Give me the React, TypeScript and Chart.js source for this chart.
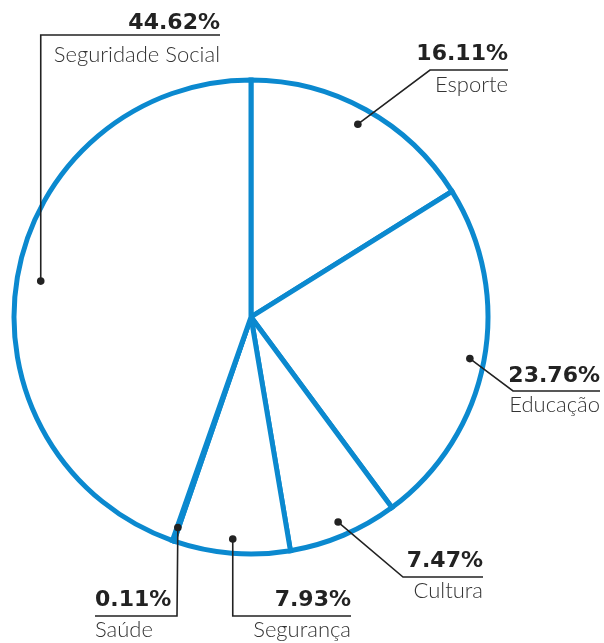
import React, { useEffect, useRef } from "react";
import { Chart, registerables } from "chart.js";

Chart.register(...registerables);

const categories = ["Esporte", "Educação", "Cultura", "Segurança", "Saúde", "Seguridade Social"];
const values = [16.11, 23.76, 7.47, 7.93, 0.11, 44.62];
const valueLabels = ["16.11%", "23.76%", "7.47%", "7.93%", "0.11%", "44.62%"];

// label placement, offsets from the pie centre (px)
const elbowX: (number | null)[] = [179, 262, 152, null, -74, null];
const elbowY = [-247, 74, 260, 299, 299, -282];
const lineEndX = [257, 349, 232, 100, -156, -31];
const pctGap = [10, 9, 10, 10, 10, 6];
const nameGap = [22, 21, 21, 21, 21, 27];
const dotRatio = [0.93, 0.94, 0.94, 0.94, 0.94, 0.9];

const BLUE = "#0b89cf";
const INK = "#222222";

const labelPlugin = {
  id: "pieLabels",
  afterDraw(chart: any) {
    const ctx = chart.ctx;
    const meta = chart.getDatasetMeta(0);
    meta.data.forEach((arc: any, i: number) => {
      const { x, y, startAngle, endAngle, outerRadius } = arc.getProps(
        ["x", "y", "startAngle", "endAngle", "outerRadius"],
        true
      );
      const mid = (startAngle + endAngle) / 2;
      const r = outerRadius * dotRatio[i];
      const dx = x + Math.cos(mid) * r;
      const dy = y + Math.sin(mid) * r;
      const ex = elbowX[i] === null ? dx : x + (elbowX[i] as number);
      const ey = y + elbowY[i];
      const endX = x + lineEndX[i];
      ctx.save();
      ctx.strokeStyle = INK;
      ctx.lineWidth = 1.6;
      ctx.beginPath();
      ctx.moveTo(dx, dy);
      ctx.lineTo(ex, ey);
      ctx.lineTo(endX, ey);
      ctx.stroke();
      ctx.fillStyle = INK;
      ctx.beginPath();
      ctx.arc(dx, dy, 3.8, 0, Math.PI * 2);
      ctx.fill();
      const right = endX > ex;
      ctx.textAlign = right ? "right" : "left";
      ctx.textBaseline = "alphabetic";
      ctx.font = "bold 22px 'DejaVu Sans', sans-serif";
      ctx.fillText(valueLabels[i], endX, ey - pctGap[i]);
      ctx.fillStyle = "#333333";
      ctx.font = "300 22px Lato, 'DejaVu Sans', sans-serif";
      ctx.fillText(categories[i], endX, ey + nameGap[i]);
      ctx.restore();
    });
  },
};

export default function App() {
  const ref = useRef<HTMLCanvasElement | null>(null);
  useEffect(() => {
    if (!ref.current) return;
    const chart = new Chart(ref.current, {
      type: "pie",
      data: {
        labels: categories,
        datasets: [
          {
            data: values,
            backgroundColor: "#ffffff",
            borderColor: BLUE,
            borderWidth: 5,
            borderJoinStyle: "miter" as any,
            hoverOffset: 0,
          },
        ],
      },
      options: {
        responsive: false,
        animation: false,
        radius: 237,
        layout: { padding: { left: 0, right: 102, top: 0, bottom: 9 } },
        plugins: {
          legend: { display: false },
          tooltip: { enabled: false },
        },
        events: [],
      } as any,
      plugins: [labelPlugin],
    });
    return () => chart.destroy();
  }, []);
  return (
    <div style={{ position: "absolute", left: 0, top: 0, width: 604, height: 643, background: "#fff" }}>
      <canvas ref={ref} width={604} height={643} />
    </div>
  );
}
